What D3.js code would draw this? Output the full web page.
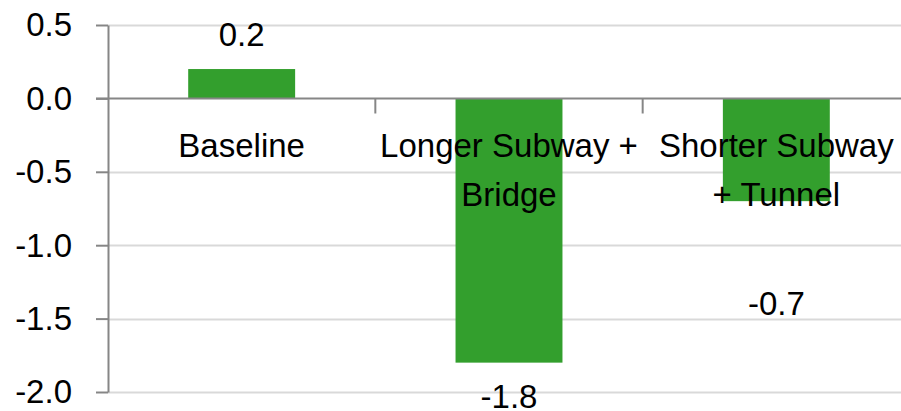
<!DOCTYPE html>
<html>
<head>
<meta charset="utf-8">
<script src="https://cdn.jsdelivr.net/npm/d3@7"></script>
<style>
  html, body { margin: 0; background: #fff; overflow: hidden; }
  svg { display: block; }
  svg text { font-family: "Liberation Sans", Arial, sans-serif; fill: #000; }
</style>
</head>
<body>
<svg id="chart"></svg>
<script>
// chart data
const categories = ["Baseline", "Longer Subway + Bridge", "Shorter Subway + Tunnel"];
const categoryLines = [["Baseline"], ["Longer Subway +", "Bridge"], ["Shorter Subway", "+ Tunnel"]];
const values = [0.2, -1.8, -0.7];
const yTicks = [0.5, 0, -0.5, -1, -1.5, -2];

const W = 901, H = 411;
const svg = d3.select('#chart').attr('width', W).attr('height', H);

const margin = {top: 25, right: -9, bottom: 19, left: 108};

const x = d3.scaleBand()
  .domain(categories)
  .range([margin.left, W - margin.right])
  .paddingInner(0.6)
  .paddingOuter(0.3);

const y = d3.scaleLinear()
  .domain([-2, 0.5])
  .range([H - margin.bottom, margin.top]);

const fontSize = 33;
const gridColor = '#d9d9d9';
const axisColor = '#868686';
const barColor = '#339f2d';
const fmt = d => d3.format('.1f')(d).replace('\u2212', '-');

// gridlines
svg.append('g')
  .selectAll('line')
  .data(yTicks.filter(d => d !== 0))
  .join('line')
  .attr('x1', margin.left)
  .attr('x2', W)
  .attr('y1', d => Math.round(y(d)) + 0.5)
  .attr('y2', d => Math.round(y(d)) + 0.5)
  .attr('stroke', gridColor)
  .attr('stroke-width', 2);

// y axis
const gy = svg.append('g')
  .attr('transform', `translate(${margin.left},0)`)
  .call(d3.axisLeft(y)
    .tickValues(yTicks)
    .tickSize(12)
    .tickSizeOuter(0)
    .tickPadding(24)
    .tickFormat(fmt));
gy.select('.domain').attr('stroke', axisColor).attr('stroke-width', 2);
gy.selectAll('.tick line').attr('stroke', axisColor).attr('stroke-width', 2);
gy.selectAll('.tick text')
  .style('font-size', fontSize + 'px')
  .attr('dy', '0.33em');

// bars
svg.append('g')
  .selectAll('rect')
  .data(values)
  .join('rect')
  .attr('x', (d, i) => x(categories[i]))
  .attr('width', x.bandwidth())
  .attr('y', d => y(Math.max(0, d)))
  .attr('height', d => Math.abs(y(d) - y(0)))
  .attr('fill', barColor);

// zero line with category ticks
const zeroY = Math.round(y(0)) + 0.5;
svg.append('line')
  .attr('x1', margin.left - 12)
  .attr('x2', W)
  .attr('y1', zeroY)
  .attr('y2', zeroY)
  .attr('stroke', axisColor)
  .attr('stroke-width', 2);

svg.append('g')
  .selectAll('line')
  .data(categories.slice(1))
  .join('line')
  .attr('x1', d => x(d) - x.step() * x.paddingInner() / 2)
  .attr('x2', d => x(d) - x.step() * x.paddingInner() / 2)
  .attr('y1', zeroY)
  .attr('y2', zeroY + 15)
  .attr('stroke', axisColor)
  .attr('stroke-width', 2);

// category labels
svg.append('g')
  .selectAll('text')
  .data(categories)
  .join('text')
  .attr('text-anchor', 'middle')
  .style('font-size', fontSize + 'px')
  .each(function(d, i) {
    const cx = x(d) + x.bandwidth() / 2;
    d3.select(this).selectAll('tspan')
      .data(categoryLines[i])
      .join('tspan')
      .attr('x', cx)
      .attr('y', (l, j) => 157 + j * 49)
      .text(l => l);
  });

// value labels (the last one sits lower, clear of the category text)
const labelShift = [0, 0, 69];
svg.append('g')
  .selectAll('text')
  .data(values)
  .join('text')
  .attr('text-anchor', 'middle')
  .style('font-size', fontSize + 'px')
  .attr('x', (d, i) => x(categories[i]) + x.bandwidth() / 2)
  .attr('y', (d, i) => d >= 0 ? y(d) - 23 : y(d) + 45 + labelShift[i])
  .text(fmt);
</script>
</body>
</html>
